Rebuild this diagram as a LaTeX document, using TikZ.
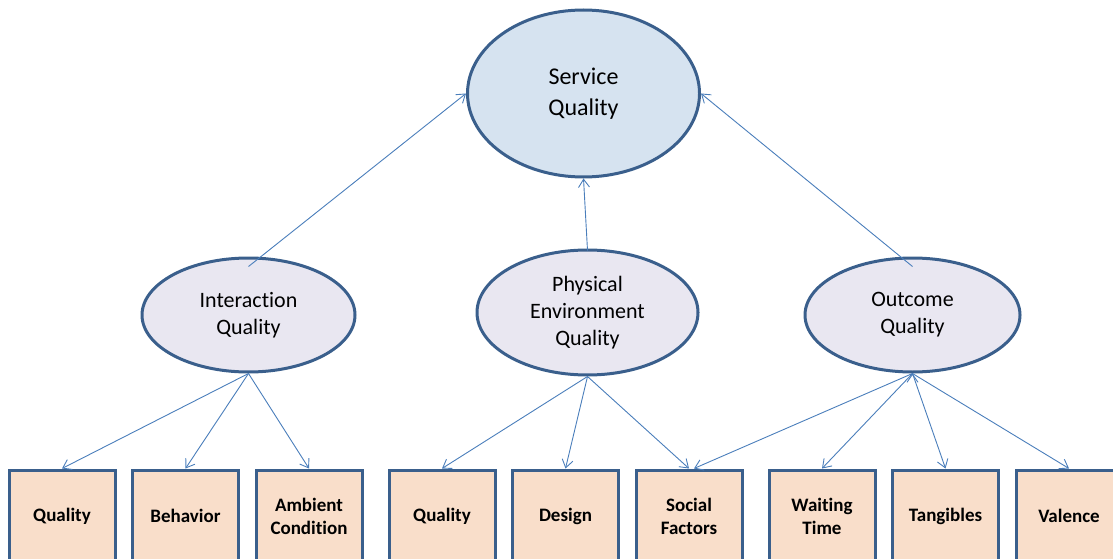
\documentclass[tikz,border=0pt]{standalone}
\usepackage{fontspec}
\setmainfont{Carlito}[Ligatures=NoCommon]
\usetikzlibrary{shapes.geometric,arrows.meta,positioning}

\definecolor{sqfill}{RGB}{214,227,240}
\definecolor{dimfill}{RGB}{233,231,241}
\definecolor{itemfill}{RGB}{249,222,202}
\definecolor{rim}{RGB}{58,95,140}
\definecolor{link}{RGB}{74,126,187}

\begin{document}
\begin{tikzpicture}[x=1pt,y=-1pt,node distance=123.5pt,on grid,
    dim/.style={ellipse,draw=rim,line width=3pt,fill=dimfill,align=center,
      font=\fontsize{22}{27}\selectfont},
    item/.style={rectangle,draw=rim,line width=3pt,fill=itemfill,align=center,
      minimum width=106pt,minimum height=92pt,inner sep=0pt,
      font=\fontsize{19}{23}\selectfont\bfseries},
    link/.style={draw=link,line width=0.9pt,-{Straight Barb[length=8pt,width=11pt,line width=0.9pt]}}]
  \useasboundingbox (0,0) rectangle (1113,559);
  % Define constructs
  \node[dim,fill=sqfill,minimum width=232pt,minimum height=167pt,
    font=\fontsize{24}{31}\selectfont] (SQ) at (583.5,93.5) {Service\\Quality};
  \node[dim,minimum width=213pt,minimum height=114pt] (IQ) at (248.5,315) {Interaction\\Quality};
  \node[dim,minimum width=221pt,minimum height=125pt,inner sep=0pt] (PE) at (587.5,312.5) {Physical\\Environment\\Quality};
  \node[dim,minimum width=215pt,minimum height=114pt] (OQ) at (912.5,315) {Outcome\\Quality};
  % Define items
  \node[item] (Q1) at (62,516) {Quality};
  \node[item] (B) [right=of Q1] {Behavior};
  \node[item] (AC) [right=of B] {Ambient\\Condition};
  \node[item] (Q2) [right=133pt of AC] {Quality};
  \node[item] (D) [right=of Q2] {Design};
  \node[item] (SF) [right=of D] {Social\\Factors};
  \node[item] (WT) [right=133pt of SF] {Waiting\\Time};
  \node[item] (T) [right=of WT] {Tangibles};
  \node[item] (V) [right=of T] {Valence};
  % Links
  \path[link]
    ([yshift=-10pt]IQ.north) edge (SQ.west)
    ([yshift=-2pt]PE.north) edge (SQ.south)
    ([yshift=-10pt]OQ.north) edge (SQ.east)
    (IQ.south) edge (Q1.north)
    (IQ.south) edge (B.north)
    (IQ.south) edge (AC.north)
    (PE.south) edge (Q2.north)
    (PE.south) edge (D.north)
    (PE.south) edge (SF.north)
    (OQ.south) edge ([xshift=5pt]SF.north)
    (OQ.south) edge (WT.north)
    (OQ.south) edge (T.north)
    (OQ.south) edge (V.north);
\end{tikzpicture}
\end{document}
